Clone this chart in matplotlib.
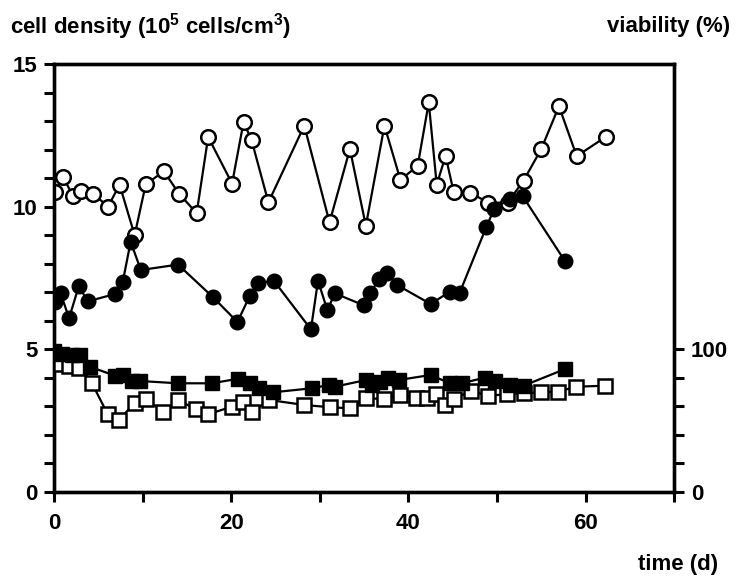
import numpy as np
import matplotlib
matplotlib.use("Agg")
import matplotlib.pyplot as plt
from matplotlib.ticker import FixedLocator

# open circles - cell density (10^5 cells/cm3)
open_circ_t = [0.1, 1.05, 2.1, 3.0, 4.4, 6.1, 7.4, 9.1, 10.35, 12.4, 14.1, 16.1,
               17.4, 20.1, 21.4, 22.3, 24.2, 28.25, 31.1, 33.4, 35.2, 37.3, 39.1,
               41.05, 42.3, 43.2, 44.2, 45.1, 47.0, 49.0, 51.2, 53.0, 55.0, 57.0,
               59.0, 62.3]
open_circ_y = [10.53, 11.03, 10.39, 10.54, 10.46, 10.0, 10.77, 9.0, 10.78, 11.24,
               10.46, 9.77, 12.44, 10.81, 12.97, 12.33, 10.15, 12.84, 9.45, 12.02,
               9.33, 12.84, 10.94, 11.43, 13.65, 10.77, 11.78, 10.53, 10.49, 10.14,
               10.14, 10.91, 12.02, 13.52, 11.77, 12.45]

# filled circles - cell density
fill_circ_t = [0.1, 0.75, 1.7, 2.8, 3.8, 6.9, 7.75, 8.65, 9.8, 14.0, 17.9, 20.7,
               22.1, 23.0, 24.8, 29.0, 29.8, 30.85, 31.7, 35.0, 35.7, 36.65, 37.6,
               38.7, 42.5, 44.7, 45.8, 48.8, 49.7, 51.5, 52.9, 57.7]
fill_circ_y = [6.65, 6.96, 6.09, 7.22, 6.68, 6.94, 7.35, 8.77, 7.78, 7.97, 6.84,
               5.96, 6.87, 7.31, 7.41, 5.70, 7.41, 6.37, 6.96, 6.54, 6.96, 7.45,
               7.69, 7.26, 6.59, 7.02, 6.99, 9.29, 9.93, 10.28, 10.37, 8.08]

# filled squares - viability (%)
fill_sq_t = [0.0, 0.9, 2.0, 2.9, 4.05, 6.9, 7.8, 8.8, 9.7, 14.0, 17.8, 20.8,
             22.1, 23.1, 24.75, 29.1, 31.0, 31.7, 35.2, 35.9, 36.8, 37.7, 38.9,
             42.5, 44.7, 46.0, 48.6, 49.8, 51.5, 53.0, 57.7]
fill_sq_v = [98.5, 97, 96, 96, 87.8, 81.5, 82, 77.8, 77.8, 76.2, 76.2, 79.4,
             76.2, 73.1, 69.9, 72.7, 75.0, 73.8, 78.5, 75.0, 77.3, 79.7, 78.5,
             82, 76.2, 76.2, 80.1, 77.8, 75.0, 74.5, 86.2]

# open squares - viability (%)
open_sq_t = [0.0, 0.8, 1.7, 2.8, 4.25, 6.05, 7.3, 9.15, 10.4, 12.3, 14.0, 16.0,
             17.35, 20.1, 21.3, 22.4, 24.3, 28.25, 31.2, 33.4, 35.2, 37.3, 39.0,
             40.9, 42.1, 43.1, 44.1, 45.1, 47.1, 49.0, 51.1, 53.1, 55.0, 56.9,
             58.9, 62.2]
open_sq_v = [90.8, 90, 88.0, 87.2, 76.6, 54.7, 50.5, 62.6, 65.2, 56.3, 64.5, 58.0,
             54.5, 59.8, 63.3, 56.3, 64.5, 61.0, 59.4, 58.7, 65.7, 65.2, 68.3,
             65.7, 65.7, 68.5, 61.0, 65.2, 70.8, 67.5, 68.5, 69.2, 69.9, 70.3,
             73.8, 74.5]

x_ticks = [0, 10, 20, 30, 40, 50, 60, 70]
x_labels = ['0', '', '20', '', '40', '', '60', '']
via_ticks = [0, 20, 40, 60, 80, 100]
via_labels = ['0', '', '', '', '', '100']

plt.rcParams['font.family'] = ['Liberation Sans', 'DejaVu Sans']
plt.rcParams['font.weight'] = 'bold'
plt.rcParams['mathtext.fontset'] = 'custom'
plt.rcParams['mathtext.rm'] = 'Liberation Sans:bold'
plt.rcParams['mathtext.default'] = 'rm'

fig = plt.figure(figsize=(7.4, 5.8), dpi=100)
ax = fig.add_axes([0.073, 0.1517, 0.838, 0.738])
ax2 = ax.twinx()

lw = 1.6
ax.plot(open_circ_t, open_circ_y, '-o', color='black', lw=lw, ms=10.5,
        mfc='white', mec='black', mew=1.8, zorder=3)
ax.plot(fill_circ_t, fill_circ_y, '-o', color='black', lw=lw, ms=10.5,
        mfc='black', mec='black', zorder=4)
ax2.plot(open_sq_t, open_sq_v, '-s', color='black', lw=lw, ms=10,
         mfc='white', mec='black', mew=1.8, zorder=3)
ax2.plot(fill_sq_t, fill_sq_v, '-s', color='black', lw=lw, ms=10,
         mfc='black', mec='black', zorder=4)

ax.set_xlim(0, 70)
ax.set_ylim(0, 15)
ax2.set_ylim(0, 300)

ax.set_xticks(x_ticks)
ax.set_xticklabels(x_labels)
ax.set_yticks(np.arange(0, 16, 1))
ax.set_yticklabels([str(v) if v % 5 == 0 else '' for v in range(16)])
ax2.yaxis.set_major_locator(FixedLocator(via_ticks))
ax2.set_yticklabels(via_labels)

for a in (ax, ax2):
    for s in a.spines.values():
        s.set_linewidth(2.4)
    a.tick_params(direction='out', length=7, width=2.2, labelsize=16, pad=5)
ax.tick_params(axis='x', pad=8)

fig.text(0.013, 0.955, 'cell density (10$^5$ cells/cm$^3$)', fontsize=16,
         ha='left', va='center')
fig.text(0.987, 0.955, 'viability (%)', fontsize=16, ha='right', va='center')
fig.text(0.97, 0.027, 'time (d)', fontsize=16, ha='right', va='center')

fig.savefig('out.png', dpi=100)
